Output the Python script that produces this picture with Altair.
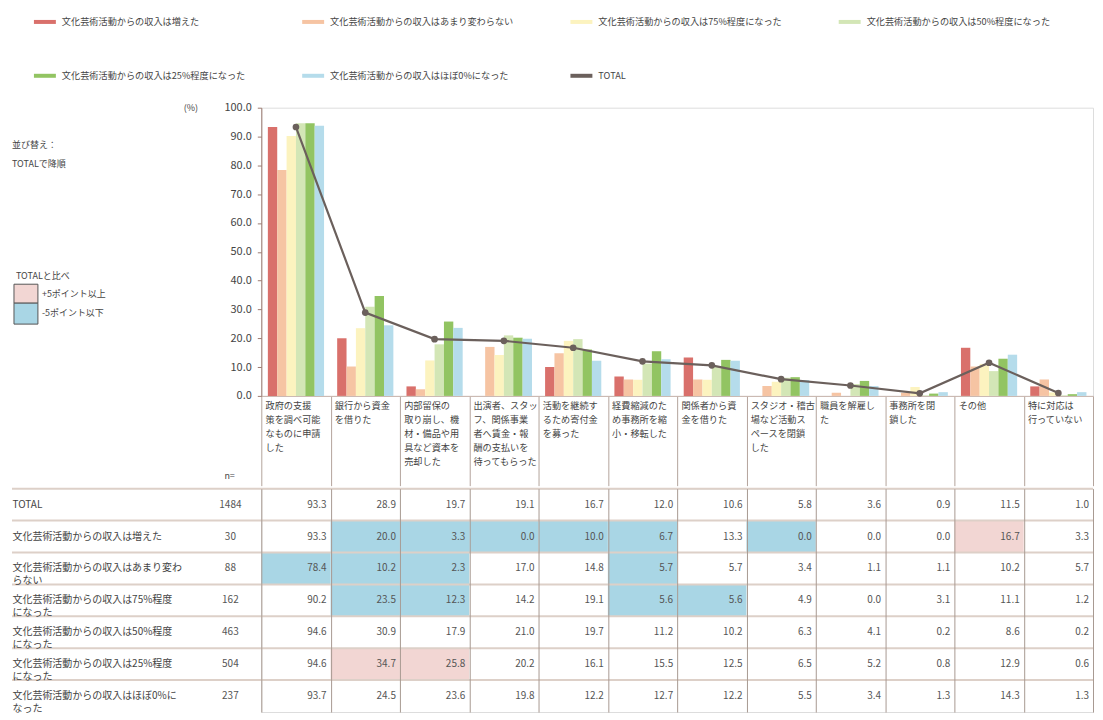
import altair as alt
import pandas as pd

FONT = "Noto Sans CJK JP"

# ---------------- data ----------------
SERIES = [
    "文化芸術活動からの収入は増えた",
    "文化芸術活動からの収入はあまり変わらない",
    "文化芸術活動からの収入は75%程度になった",
    "文化芸術活動からの収入は50%程度になった",
    "文化芸術活動からの収入は25%程度になった",
    "文化芸術活動からの収入はほぼ0%になった",
]
SERIES_COLORS = ["#d9706b", "#f6c4a3", "#fcf3bf", "#d3e6b6", "#92c462", "#b5dceb"]
TOTAL_NAME = "TOTAL"
TOTAL_COLOR = "#6b605c"

CATEGORIES = [
    "政府の支援|策を調べ可能|なものに申請|した",
    "銀行から資金|を借りた",
    "内部留保の|取り崩し、機|材・備品や用|具など資本を|売却した",
    "出演者、スタッ|フ、関係事業|者へ賃金・報|酬の支払いを|待ってもらった",
    "活動を継続す|るため寄付金|を募った",
    "経費縮減のた|め事務所を縮|小・移転した",
    "関係者から資|金を借りた",
    "スタジオ・稽古|場など活動ス|ペースを閉鎖|した",
    "職員を解雇し|た",
    "事務所を閉|鎖した",
    "その他",
    "特に対応は|行っていない",
]

TOTAL_VALUES = [93.3, 28.9, 19.7, 19.1, 16.7, 12.0, 10.6, 5.8, 3.6, 0.9, 11.5, 1.0]
INCREASED = [93.3, 20.0, 3.3, 0.0, 10.0, 6.7, 13.3, 0.0, 0.0, 0.0, 16.7, 3.3]
UNCHANGED = [78.4, 10.2, 2.3, 17.0, 14.8, 5.7, 5.7, 3.4, 1.1, 1.1, 10.2, 5.7]
PCT75 = [90.2, 23.5, 12.3, 14.2, 19.1, 5.6, 5.6, 4.9, 0.0, 3.1, 11.1, 1.2]
PCT50 = [94.6, 30.9, 17.9, 21.0, 19.7, 11.2, 10.2, 6.3, 4.1, 0.2, 8.6, 0.2]
PCT25 = [94.6, 34.7, 25.8, 20.2, 16.1, 15.5, 12.5, 6.5, 5.2, 0.8, 12.9, 0.6]
PCT0 = [93.7, 24.5, 23.6, 19.8, 12.2, 12.7, 12.2, 5.5, 3.4, 1.3, 14.3, 1.3]
SERIES_VALUES = [INCREASED, UNCHANGED, PCT75, PCT50, PCT25, PCT0]

TOTAL_N = 1484
SERIES_N = [30, 88, 162, 463, 504, 237]

ROW_LABELS = [
    "TOTAL",
    "文化芸術活動からの収入は増えた",
    "文化芸術活動からの収入はあまり変わ|らない",
    "文化芸術活動からの収入は75%程度|になった",
    "文化芸術活動からの収入は50%程度|になった",
    "文化芸術活動からの収入は25%程度|になった",
    "文化芸術活動からの収入はほぼ0%に|なった",
]

W = 834
H = 289
ROW_H = 32

# ---------------- tables ----------------
bar_records = []
for s, vals in zip(SERIES, SERIES_VALUES):
    for c, v in zip(CATEGORIES, vals):
        bar_records.append({"cat": c, "series": s, "value": v})
bars_df = pd.DataFrame(bar_records)
total_df = pd.DataFrame({"cat": CATEGORIES, "series": TOTAL_NAME, "value": TOTAL_VALUES})

table_records = []
all_rows = [TOTAL_VALUES] + SERIES_VALUES
all_n = [TOTAL_N] + SERIES_N
for r, (label, vals) in enumerate(zip(ROW_LABELS, all_rows)):
    for c, v, t in zip(CATEGORIES, vals, TOTAL_VALUES):
        d = round(v - t, 1)
        hl = "none"
        if r > 0 and d >= 5:
            hl = "pos"
        elif r > 0 and d <= -5:
            hl = "neg"
        table_records.append({"row": label, "cat": c, "value": v,
                              "txt": f"{v:.1f}", "hl": hl})
table_df = pd.DataFrame(table_records)
n_df = pd.DataFrame({"row": ROW_LABELS, "n": [str(n) for n in all_n]})

# ---------------- top chart ----------------
color_scale = alt.Scale(domain=SERIES + [TOTAL_NAME], range=SERIES_COLORS + [TOTAL_COLOR])
legend = alt.Legend(
    title=None, orient="none", legendX=-230, legendY=-99, columns=4,
    direction="horizontal", symbolType="stroke", symbolSize=484,
    symbolStrokeWidth=4, labelFont=FONT, labelFontSize=9.2, labelColor="#444",
    columnPadding=48, rowPadding=33, gridAlign="all", labelLimit=300, labelOffset=4,
)

x_bar = alt.X(
    "cat:N", sort=CATEGORIES, title=None,
    scale=alt.Scale(paddingInner=0, paddingOuter=0),
    axis=alt.Axis(
        labelExpr="split(datum.label, '|')", labelAngle=0, labelAlign="left",
        labelBaseline="top", labelOffset=-31, labelPadding=-84, labelLineHeight=14,
        labelFontSize=9.2, labelColor="#444", labelFont=FONT, labelOverlap=False,
        labelLimit=200, tickBand="extent", tickSize=90, tickColor="#b4a49c",
        domainColor="#c8b6ae", grid=False,
    ),
)
y_bar = alt.Y(
    "value:Q", title="(%)", scale=alt.Scale(domain=[0, 100]),
    axis=alt.Axis(
        values=list(range(0, 101, 10)), format=".1f", tickSize=4,
        tickColor="#9c7a70", domainColor="#9c7a70", labelFontSize=11,
        labelColor="#444", labelPadding=6, grid=False, labelFont=FONT,
        titleAngle=0, titleX=-64, titleY=0, titleAlign="right",
        titleBaseline="middle", titleFontSize=9, titleFontWeight="normal",
        titleColor="#444", titleFont=FONT,
    ),
)

bars = alt.Chart(bars_df).mark_bar().encode(
    x=x_bar,
    xOffset=alt.XOffset("series:N", sort=SERIES,
                        scale=alt.Scale(paddingInner=0, paddingOuter=0.7)),
    y=y_bar,
    color=alt.Color("series:N", scale=color_scale, legend=legend),
)

line = alt.Chart(total_df).mark_line(
    strokeWidth=2.2,
    point=alt.OverlayMarkDef(filled=True, size=45),
).encode(
    x=x_bar,
    y=y_bar,
    color=alt.Color("series:N", scale=color_scale, legend=legend),
)


def note(text, x, y, size=9, align="left", color="#444"):
    return alt.Chart(pd.DataFrame({"t": [text]})).mark_text(
        align=align, baseline="middle", fontSize=size, font=FONT, color=color
    ).encode(text="t:N", x=alt.value(x), y=alt.value(y))


def box(x, x2, y, y2, fill):
    return alt.Chart(pd.DataFrame({"k": [0]})).mark_rect(
        fill=fill, stroke="#555", strokeWidth=1
    ).encode(x=alt.value(x), x2=alt.value(x2), y=alt.value(y), y2=alt.value(y2))


notes = [
    note("並び替え：", -250, 37),
    note("TOTALで降順", -250, 56),
    note("TOTALと比べ", -246, 169),
    box(-248, -224, 177, 196, "#f2d6d3"),
    box(-248, -224, 196, 217, "#a9d6e5"),
    note("+5ポイント以上", -220, 187),
    note("-5ポイント以下", -220, 206),
    note("n=", -37, 369),
]

top = alt.layer(bars, line, *notes).properties(width=W, height=H)

# ---------------- table chart ----------------
x_tab = alt.X(
    "cat:N", sort=CATEGORIES, title=None,
    scale=alt.Scale(paddingInner=0, paddingOuter=0),
    axis=alt.Axis(grid=True, tickBand="extent", labels=False, ticks=False,
                  domain=False, gridColor="#a89a92", gridWidth=1),
)
y_tab = alt.Y(
    "row:N", sort=ROW_LABELS, title=None,
    scale=alt.Scale(paddingInner=0, paddingOuter=0),
    axis=alt.Axis(
        labelAlign="left", labelPadding=250, ticks=False, tickSize=0, domain=False,
        labelExpr="split(datum.label, '|')", labelFontSize=10, labelLineHeight=13,
        labelLimit=300, labelColor="#444", labelFont=FONT, grid=False,
        labelBaseline="middle",
    ),
)

pos_cells = alt.Chart(table_df[table_df.hl == "pos"]).mark_rect(fill="#f2d6d3").encode(
    x=x_tab, y=y_tab)
neg_cells = alt.Chart(table_df[table_df.hl == "neg"]).mark_rect(fill="#a9d6e5").encode(
    x=x_tab, y=y_tab)

row_lines = alt.Chart(n_df).mark_rule(color="#ddd0c8", strokeWidth=2).encode(
    x=alt.value(-250), x2=alt.value(W),
    y=alt.Y("row:N", sort=ROW_LABELS, bandPosition=0, title=None,
            scale=alt.Scale(paddingInner=0, paddingOuter=0)),
)

cell_text = alt.Chart(table_df).mark_text(
    align="right", baseline="middle", dx=-4, fontSize=10, font=FONT, color="#555"
).encode(
    x=alt.X("cat:N", sort=CATEGORIES, bandPosition=1, title=None,
            scale=alt.Scale(paddingInner=0, paddingOuter=0)),
    y=y_tab,
    text="txt:N",
)

n_text = alt.Chart(n_df).mark_text(
    align="center", baseline="middle", fontSize=10, font=FONT, color="#555"
).encode(x=alt.value(-31), y=y_tab, text="n:N")

table = alt.layer(pos_cells, neg_cells, row_lines, cell_text, n_text).properties(
    width=W, height=ROW_H * len(ROW_LABELS))

chart = alt.vconcat(top, table, spacing=0).properties(
    padding={"left": 2, "top": 0, "right": 0, "bottom": 0}
).configure_view(stroke=None).configure(font=FONT)

chart.save("out.html", embed_options={"renderer": "svg", "actions": False})
